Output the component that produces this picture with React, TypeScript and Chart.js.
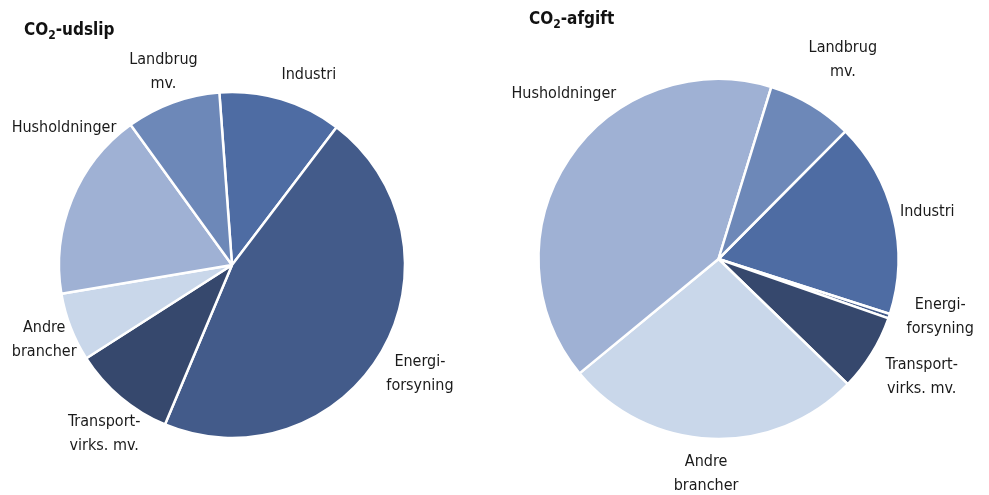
import React, { useEffect, useRef } from "react";
import { Chart, registerables } from "chart.js";

Chart.register(...registerables);

const categories = ["Industri", "Energiforsyning", "Transportvirks. mv.", "Andre brancher", "Husholdninger", "Landbrug mv."];
const labelLines = [["Industri"], ["Energi-", "forsyning"], ["Transport-", "virks. mv."], ["Andre", "brancher"], ["Husholdninger"], ["Landbrug", "mv."]];
const udslipValues = [11.5, 46.0, 9.6, 6.4, 17.7, 8.8];
const afgiftValues = [17.5, 0.4, 6.9, 26.8, 40.7, 7.7];
const sliceColors = ["#4e6ca3", "#435b8a", "#36486d", "#c9d7ea", "#9fb1d4", "#6d88b8"];

const FONT = '"Liberation Sans Narrow", "DejaVu Sans Condensed", "Noto Sans", sans-serif';

// label layout: angular shift (deg) from slice middle and distance from centre (px)
const leftLabelShift = [5.5, 0, -3, -0.5, 17, 0.5];
const leftLabelDist = [205, 217, 212, 202, 217, 205];
const rightLabelShift = [1, -4, -1.5, 1, 13, 1];
const rightLabelDist = [214, 229, 235, 215, 226, 235];

const labelPlugin = {
  id: "outerLabels",
  afterDatasetsDraw(chart: any, _args: any, opts: any) {
    const ctx = chart.ctx;
    const meta = chart.getDatasetMeta(0);
    ctx.save();
    ctx.font = `16px ${FONT}`;
    ctx.fillStyle = "#1a1a1a";
    ctx.textAlign = "center";
    ctx.textBaseline = "middle";
    meta.data.forEach((arc: any, i: number) => {
      const p = arc.getProps(["x", "y", "startAngle", "endAngle"], true);
      const mid = (p.startAngle + p.endAngle) / 2 + (opts.shift[i] * Math.PI) / 180;
      const d = opts.dist[i];
      const lx = p.x + d * Math.cos(mid);
      const ly = p.y + d * Math.sin(mid);
      const lines = labelLines[i];
      const lh = 24;
      lines.forEach((t: string, k: number) => {
        ctx.fillText(t, lx, ly + (k - (lines.length - 1) / 2) * lh);
      });
    });
    ctx.restore();
  },
};

function PieCanvas(props: { values: number[]; rotation: number; radius: number; padding: any; width: number; shift: number[]; dist: number[]; left: number }) {
  const ref = useRef<HTMLCanvasElement>(null);
  useEffect(() => {
    const chart = new Chart(ref.current as HTMLCanvasElement, {
      type: "pie",
      data: {
        labels: categories,
        datasets: [
          {
            data: props.values,
            backgroundColor: sliceColors,
            borderColor: "#ffffff",
            borderWidth: 2.5,
          },
        ],
      },
      options: {
        animation: false,
        responsive: false,
        rotation: props.rotation,
        radius: props.radius,
        layout: { padding: props.padding },
        plugins: {
          legend: { display: false },
          tooltip: { enabled: false },
          outerLabels: { shift: props.shift, dist: props.dist },
        } as any,
      },
      plugins: [labelPlugin],
    });
    return () => chart.destroy();
  }, []);
  return (
    <canvas
      ref={ref}
      width={props.width}
      height={495}
      style={{ position: "absolute", left: props.left, top: 0, width: props.width, height: 495 }}
    />
  );
}

const titleStyle: React.CSSProperties = {
  position: "absolute",
  font: `bold 17px ${FONT}`,
  color: "#111",
  lineHeight: "20px",
  whiteSpace: "nowrap",
};
const subStyle: React.CSSProperties = { fontSize: "12px", verticalAlign: "-4px", lineHeight: "0" };

export default function App() {
  return (
    <div style={{ position: "absolute", left: 0, top: 0, width: 989, height: 495, background: "#fff", overflow: "hidden" }}>
      <PieCanvas
        values={udslipValues}
        rotation={-4.2}
        radius={173}
        width={464}
        left={0}
        padding={{ left: 59, right: 59, top: 92, bottom: 57 }}
        shift={leftLabelShift}
        dist={leftLabelDist}
      />
      <PieCanvas
        values={afgiftValues}
        rotation={44.8}
        radius={180}
        width={509}
        left={480}
        padding={{ left: 59, right: 91, top: 79, bottom: 56 }}
        shift={rightLabelShift}
        dist={rightLabelDist}
      />
      <div style={{ ...titleStyle, left: 24, top: 19 }}>
        CO<span style={subStyle}>2</span>-udslip
      </div>
      <div style={{ ...titleStyle, left: 529, top: 8 }}>
        CO<span style={subStyle}>2</span>-afgift
      </div>
    </div>
  );
}
